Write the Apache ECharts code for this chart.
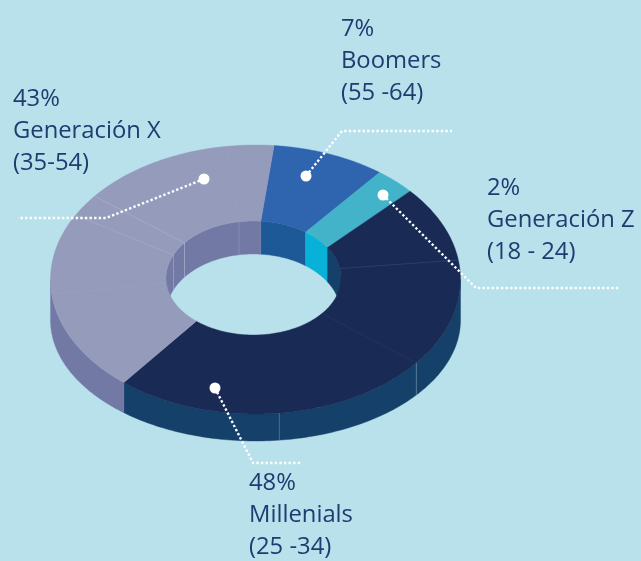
<!DOCTYPE html>
<html>
<head>
<meta charset="utf-8">
<title>Generaciones</title>
<style>
html,body{margin:0;padding:0;background:#b8e1eb;}
#chart{width:641px;height:561px;}
</style>
<script src="https://cdn.jsdelivr.net/npm/echarts@6/dist/echarts.min.js"></script>
</head>
<body>
<div id="chart"></div>
<script>
//datos
var categories = ["Boomers","Generación Z","Millenials","Generación X"];
var percentLabels = ["7%","2%","48%","43%"];
var ageLabels = ["(55 -64)","(18 - 24)","(25 -34)","(35-54)"];
//el arco dibujado no coincide con la etiqueta, borde exterior e interior
var rimShares = [8.9,3.25,47.5,40.35];
var holeShares = [8.8,5.9,45.3,40];
//lineas finas dentro de cada porcion, en % acumulado
var seamRim = [21.25,34.2,46.7,71.8,81.5,84.2,96.3];
var seamHole = [21,34.4,47,72.2,80.3,84.2,96];

//colores y geometria
var topColors = ["#2f64ae","#42b3c9","#192a54","#959bbb"];
var wallColors = ["#1d5897","#08b1d8","#154069","#7379a5"];
var seamColors = ["rgba(90,110,160,0.4)","rgba(90,110,160,0.2)","rgba(90,110,160,0.06)","rgba(255,255,255,0.05)","rgba(255,255,255,0.16)","rgba(255,255,255,0.2)","rgba(255,255,255,0.04)"];
var wallSeamColors = ["rgba(255,255,255,0)","rgba(190,215,230,0.4)","rgba(190,215,230,0.3)","rgba(255,255,255,0)","rgba(220,225,240,0.3)","rgba(220,225,240,0.4)","rgba(220,225,240,0.2)"];
var topOuter = {cx:255.5,cy:279.5,rx:205,ry:134.5};
var botOuter = {cx:255.5,cy:320,rx:205,ry:121};
var topInner = {cx:253.5,cy:278,rx:87.5,ry:57};
var botInner = {cx:253.5,cy:314,rx:87.5,ry:60};
var rimStart = 5.2;
var holeStart = 4.8;
var textColor = "#1f3b70";
//texto y guias de cada categoria
var labelPos = [[341,29],[487,188],[249,483],[13,99]];
var leaders = [
	[[306,176],[342,131],[452,131]],
	[[383,195],[476,288],[620,288]],
	[[215,388],[253,463],[302,463]],
	[[204,179],[106,218],[18,218]]
];

function point(e,deg){
	var t = deg*Math.PI/180;
	return [e.cx+e.rx*Math.sin(t),e.cy-e.ry*Math.cos(t)];
}
function arc(e,a,b){
	var pts = [];
	var n = Math.max(2,Math.ceil(Math.abs(b-a)));
	for(var i=0;i<=n;i++){
		pts.push(point(e,a+(b-a)*i/n));
	}
	return pts;
}
//banda entre dos elipses
function band(e1,a1,b1,e2,a2,b2){
	return arc(e1,a1,b1).concat(arc(e2,b2,a2));
}
function edges(shares,start){
	var list = [start];
	for(var i=0;i<shares.length;i++){
		list.push(list[i]+shares[i]*3.6);
	}
	return list;
}
var rimEdges = edges(rimShares,rimStart);
var holeEdges = edges(holeShares,holeStart);

function poly(points,color){
	return {
		type:"polygon",
		shape:{points:points},
		style:{fill:color,stroke:color,lineWidth:0.4}
	};
}
function seamLine(p1,p2,color,width){
	return {
		type:"line",
		shape:{x1:p1[0],y1:p1[1],x2:p2[0],y2:p2[1]},
		style:{stroke:color,lineWidth:width,fill:null}
	};
}
//pared exterior: solo el frente (90 a 270), el orden de dibujo tapa lo demas
function renderOuterWall(params,api){
	var i = api.value(0);
	var a = Math.max(rimEdges[i],90);
	var b = Math.min(rimEdges[i+1],270);
	if(b<=a){
		return null;
	}
	return poly(band(topOuter,a,b,botOuter,a,b),wallColors[i]);
}
//pared del hueco: solo la parte de atras (-90 a 90)
function renderInnerWall(params,api){
	var i = api.value(0);
	var children = [];
	var offsets = [0,-360];
	for(var k=0;k<offsets.length;k++){
		var a = Math.max(holeEdges[i]+offsets[k],-90);
		var b = Math.min(holeEdges[i+1]+offsets[k],90);
		if(b>a){
			children.push(poly(band(topInner,a,b,botInner,a,b),wallColors[i]));
		}
	}
	return {type:"group",children:children};
}
function renderTop(params,api){
	var i = api.value(0);
	return poly(band(topOuter,rimEdges[i],rimEdges[i+1],topInner,holeEdges[i],holeEdges[i+1]),topColors[i]);
}
function renderSeam(params,api){
	var i = api.value(0);
	var r = rimStart+seamRim[i]*3.6;
	var h = holeStart+seamHole[i]*3.6;
	var children = [seamLine(point(topOuter,r),point(topInner,h),seamColors[i],0.7)];
	if(r>90 && r<270){
		children.push(seamLine(point(topOuter,r),point(botOuter,r),wallSeamColors[i],1));
	}
	if(h>270){
		children.unshift(seamLine(point(topInner,h),point(botInner,h),wallSeamColors[i],1));
	}
	return {type:"group",children:children};
}
function renderLeader(params,api){
	var pts = leaders[api.value(0)];
	return {
		type:"group",
		children:[
			{
				type:"polyline",
				shape:{points:pts},
				style:{stroke:"#ffffff",lineWidth:2.4,lineDash:[2.4,2.2],fill:null}
			},
			{
				type:"circle",
				shape:{cx:pts[0][0],cy:pts[0][1],r:5.5},
				style:{fill:"#ffffff"}
			}
		]
	};
}
function renderLabel(params,api){
	var i = api.value(0);
	var lines = [percentLabels[i],categories[i],ageLabels[i]];
	var children = [];
	for(var k=0;k<lines.length;k++){
		children.push({
			type:"text",
			style:{
				x:labelPos[i][0],
				y:labelPos[i][1]+k*32,
				text:lines[k],
				fill:textColor,
				font:"23.8px 'Open Sans'",
				textAlign:"left",
				textVerticalAlign:"middle"
			}
		});
	}
	return {type:"group",children:children};
}
function layer(name,render,count){
	var rows = [];
	for(var i=0;i<count;i++){
		rows.push([i]);
	}
	return {
		type:"custom",
		name:name,
		coordinateSystem:"none",
		renderItem:render,
		data:rows,
		silent:true,
		animation:false
	};
}

var chart = echarts.init(document.getElementById("chart"));
chart.setOption({
	backgroundColor:"#b8e1eb",
	animation:false,
	series:[
		layer("pared",renderOuterWall,categories.length),
		layer("hueco",renderInnerWall,categories.length),
		layer("cara",renderTop,categories.length),
		layer("lineas",renderSeam,seamRim.length),
		layer("guias",renderLeader,leaders.length),
		layer("textos",renderLabel,categories.length)
	]
});
</script>
</body>
</html>
